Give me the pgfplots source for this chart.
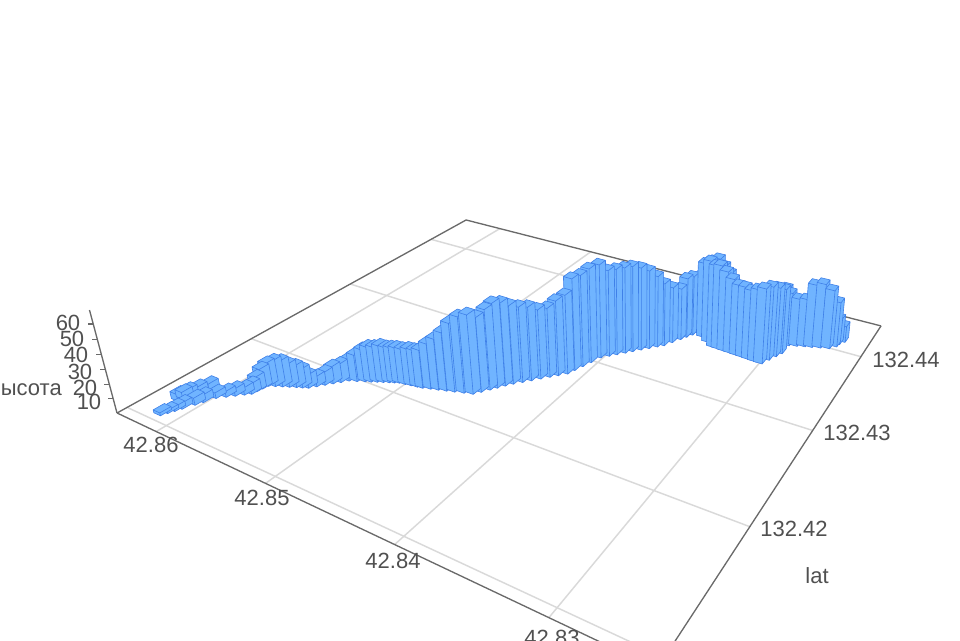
\documentclass[border=0pt]{standalone}
\usepackage{fontspec}
\setmainfont{Liberation Sans}
\usepackage{pgfplots}
\pgfplotsset{compat=1.18}
\definecolor{barfill}{HTML}{70B4FF}
\definecolor{baredge}{HTML}{3F80E8}
\definecolor{gridc}{HTML}{D9D9D9}
\definecolor{axisc}{HTML}{6A6A6A}
\definecolor{textc}{HTML}{505050}
\tikzset{
  barface/.style={fill=barfill,draw=baredge,line width=0.45pt,line join=round,mark=none},
  gridline/.style={gridc,line width=1.1pt,mark=none},
  axisline/.style={axisc,line width=1pt,mark=none},
  lbl/.style={text=textc,font=\fontsize{16.5pt}{18pt}\selectfont,inner sep=0pt},
}
% pgfplots 1.18 has no perspective view, so lat / lon / height go through the camera projection read off the floor of the chart
\newcommand{\proj}[5]{%
  \pgfmathsetmacro\ww{1-0.295*#1+0.4604*#2-0.0434*#3}%
  \pgfmathsetmacro#4{(346.2*#1+563.6*#2+117-27.8*#3)/\ww}%
  \pgfmathsetmacro#5{(58.6*#1-91.7*#2+413-103*#3)/\ww}}
\newcommand{\geo}[3]{% lat lon height -> \qS \qT \qU
  \pgfmathsetmacro\qS{(42.864-#1)*25}%
  \pgfmathsetmacro\qT{0.3+(#2-132.42)*28}%
  \pgfmathsetmacro\qU{#3/60}}
\newcommand{\oneBar}[3]{%
  \geo{#1}{#2}{#3}%
  \pgfmathsetmacro\sA{\qS-0.0085}\pgfmathsetmacro\sB{\qS+0.0085}%
  \pgfmathsetmacro\tA{\qT-0.0115}\pgfmathsetmacro\tB{\qT+0.0115}%
  \proj{\sB}{\tA}{\qU}\tfx\tfy \proj{\sA}{\tA}{\qU}\tlx\tly
  \proj{\sA}{\tB}{\qU}\tbx\tby \proj{\sB}{\tB}{\qU}\trx\trY
  \proj{\sB}{\tA}{0}\bfx\bfy \proj{\sA}{\tA}{0}\blx\bly \proj{\sB}{\tB}{0}\brx\brY
  \edef\cmd{\noexpand\addplot[barface] coordinates {(\tfx,\tfy)(\tlx,\tly)(\tbx,\tby)(\trx,\trY)(\tfx,\tfy)(\bfx,\bfy)(\brx,\brY)(\trx,\trY)(\tfx,\tfy)(\bfx,\bfy)(\blx,\bly)(\tlx,\tly)(\tfx,\tfy)};}%
  \cmd}
\newcommand{\floorLine}[5]{% style, lat1 lon1 lat2 lon2
  \geo{#2}{#3}{0}\proj{\qS}{\qT}{0}\ax\ay
  \geo{#4}{#5}{0}\proj{\qS}{\qT}{0}\bx\by
  \edef\cmd{\noexpand\addplot[#1] coordinates {(\ax,\ay)(\bx,\by)};}\cmd}
\newcommand{\zTick}[1]{%
  \geo{42.864}{132.40929}{#1}\proj{\qS}{\qT}{\qU}\ax\ay
  \pgfmathsetmacro\bx{\ax-5}%
  \edef\cmd{\noexpand\addplot[axisline] coordinates {(\ax,\ay)(\bx,\ay)};}\cmd}
% lat / lon / height, far bars first
\def\barlist{%
42.82596/132.44174/12,42.82620/132.44125/19,42.82628/132.44082/33,%
42.82971/132.43937/41,42.83006/132.43870/43,42.82935/132.43926/39,42.82881/132.43947/35,42.82827/132.43969/35,42.82781/132.43987/46,42.82724/132.44010/47,42.82665/132.44033/43,%
42.83587/132.43770/42,42.83615/132.43711/44,42.83639/132.43660/44,42.83663/132.43610/38,42.83696/132.43541/41,42.83728/132.43473/46,42.83763/132.43432/52,42.83804/132.43384/57,42.83845/132.43336/60,42.83886/132.43288/62,42.83924/132.43243/62,42.83965/132.43195/62,42.84003/132.43150/62,42.84044/132.43102/67,42.84072/132.43014/67,42.84095/132.42941/65,42.84117/132.42871/65,42.84136/132.42809/56,42.84179/132.42760/53,42.84220/132.42714/49,42.84262/132.42665/49,42.84305/132.42615/52,42.84346/132.42569/53,42.84389/132.42520/55,42.84422/132.42474/58,42.84454/132.42427/59,42.84484/132.42385/56,42.84519/132.42334/52,%
42.83516/132.43770/54,42.83480/132.43775/56,42.83442/132.43781/58,42.83387/132.43756/55,42.83332/132.43731/52,42.83524/132.43724/55,42.83459/132.43677/60,42.83396/132.43631/60,42.83358/132.43628/61,42.83308/132.43624/58,42.83258/132.43620/54,42.83208/132.43616/51,42.83158/132.43612/51,42.83108/132.43608/50,42.83060/132.43604/52,%
42.82939/132.43798/47,42.82961/132.43739/50,42.82986/132.43670/53,42.83012/132.43601/54,%
42.85391/132.41990/15,42.85426/132.41950/13,42.85461/132.41911/12,42.85496/132.41871/9,42.85531/132.41831/7,42.85566/132.41791/9,42.85604/132.41773/13,42.85643/132.41755/15,42.85688/132.41734/16,42.85732/132.41714/18,42.85777/132.41693/18,42.85822/132.41672/16,42.85830/132.41629/14,42.85838/132.41586/10,42.85845/132.41549/7,42.85878/132.41519/5,42.85921/132.41480/5,42.85963/132.41442/4,%
42.86107/132.41423/6,42.86156/132.41369/5,42.86184/132.41313/5,42.86202/132.41250/5,42.86193/132.41281/5,%
42.86011/132.41399/4,42.86045/132.41325/5,42.86066/132.41278/5,42.86101/132.41206/4,42.86120/132.41167/3,42.86140/132.41129/2,42.86160/132.41091/2,%
42.85340/132.42014/19,42.85289/132.42039/23,42.85251/132.42057/25,42.85213/132.42076/25,42.85175/132.42094/26,42.85137/132.42112/25,42.85105/132.42128/25,42.85073/132.42143/25,42.85026/132.42151/25,42.84980/132.42160/26,42.84933/132.42168/26,42.84894/132.42175/27,42.84839/132.42193/32,42.84785/132.42211/36,42.84730/132.42229/41,42.84675/132.42247/48,42.84613/132.42268/53,42.84552/132.42288/55}
\begin{document}
\begin{tikzpicture}[x=0.75pt,y=0.75pt]
\path[use as bounding box] (0,0) rectangle (960,640);
\clip (0,0) rectangle (960,640);
\begin{axis}[
  at={(0,0)},anchor=south west,
  scale only axis,width=720pt,height=480pt,
  xmin=0,xmax=960,ymin=0,ymax=640,y dir=reverse,
  axis lines=none,clip=false,
  every axis plot/.append style={forget plot},
]
\floorLine{gridline}{42.86}{132.40929}{42.86}{132.445}
\floorLine{gridline}{42.85}{132.40929}{42.85}{132.445}
\floorLine{gridline}{42.84}{132.40929}{42.84}{132.445}
\floorLine{gridline}{42.83}{132.40929}{42.83}{132.445}
\floorLine{gridline}{42.864}{132.41}{42.824}{132.41}
\floorLine{gridline}{42.864}{132.42}{42.824}{132.42}
\floorLine{gridline}{42.864}{132.43}{42.824}{132.43}
\floorLine{gridline}{42.864}{132.44}{42.824}{132.44}
\floorLine{axisline}{42.864}{132.40929}{42.864}{132.445}
\floorLine{axisline}{42.864}{132.445}{42.824}{132.445}
\floorLine{axisline}{42.864}{132.40929}{42.824}{132.40929}
\floorLine{axisline}{42.824}{132.40929}{42.824}{132.445}
\geo{42.864}{132.40929}{0}\proj{0}{0}{0}\ax\ay
\geo{42.864}{132.40929}{69}\proj{0}{0}{\qU}\bx\by
\edef\cmd{\noexpand\addplot[axisline] coordinates {(\ax,\ay)(\bx,\by)};}\cmd
\zTick{10}\zTick{20}\zTick{30}\zTick{40}\zTick{50}\zTick{60}
\foreach \la/\lo/\hh in \barlist {\oneBar{\la}{\lo}{\hh}}
\node[lbl] at (axis cs:151,445) {42.86};
\node[lbl] at (axis cs:262,498) {42.85};
\node[lbl] at (axis cs:393,561) {42.84};
\node[lbl] at (axis cs:552,638) {42.83};
\node[lbl] at (axis cs:906,360) {132.44};
\node[lbl] at (axis cs:857,433) {132.43};
\node[lbl] at (axis cs:794,529) {132.42};
\node[lbl] at (axis cs:817,576) {lat};
\node[lbl] at (axis cs:68,323) {60};
\node[lbl] at (axis cs:72,339) {50};
\node[lbl] at (axis cs:76,355) {40};
\node[lbl] at (axis cs:80,372) {30};
\node[lbl] at (axis cs:85,388) {20};
\node[lbl] at (axis cs:89,402) {10};
\node[lbl,anchor=east] at (axis cs:62,390) {высота};
\end{axis}
\end{tikzpicture}
\end{document}
